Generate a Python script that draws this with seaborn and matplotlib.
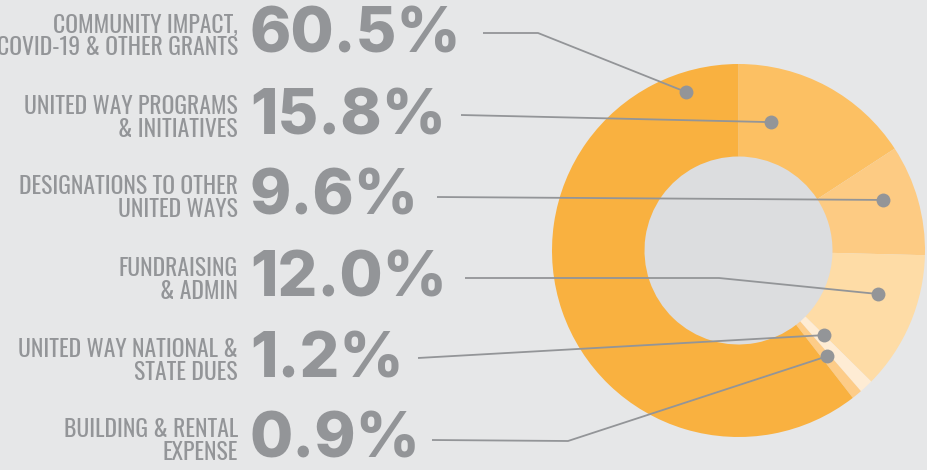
import numpy as np
import matplotlib
matplotlib.use("Agg")
import matplotlib.pyplot as plt
import seaborn as sns
import logging
logging.getLogger("matplotlib.font_manager").setLevel(logging.ERROR)

# ---- data ----
categories = ["COMMUNITY IMPACT,\nCOVID-19 & OTHER GRANTS",
              "UNITED WAY PROGRAMS\n& INITIATIVES",
              "DESIGNATIONS TO OTHER\nUNITED WAYS",
              "FUNDRAISING\n& ADMIN",
              "UNITED WAY NATIONAL &\nSTATE DUES",
              "BUILDING & RENTAL\nEXPENSE"]
values = [60.5, 15.8, 9.6, 12.0, 1.2, 0.9]
pct_labels = ["60.5%", "15.8%", "9.6%", "12.0%", "1.2%", "0.9%"]

# ---- style ----
sns.set_theme(style="white")
BG = "#e6e7e8"
HOLE = "#dcdddf"
GRAY = "#939598"
colors = ["#f9b140", "#fcc063", "#fdcb83", "#fedca6", "#feecd4", "#fdcc88"]

W, H = 928, 470
fig = plt.figure(figsize=(W / 100, H / 100), dpi=100, facecolor=BG)

# donut geometry (pixels)
cx, cy, R = 738.5, 250.5, 186.5
hole_r = 94 / R

# pie order clockwise from top: all but the first, then the first
order = [1, 2, 3, 4, 5, 0]
pax = fig.add_axes([(cx - R) / W, (H - cy - R) / H, 2 * R / W, 2 * R / H])
pax.set_facecolor("none")
wedges, _ = pax.pie([values[i] for i in order], colors=[colors[i] for i in order],
                    startangle=90, counterclock=False, radius=1,
                    wedgeprops=dict(width=1 - hole_r, linewidth=0))
pax.add_patch(plt.Circle((0, 0), hole_r, color=HOLE, zorder=0))
pax.set_xlim(-1, 1)
pax.set_ylim(-1, 1)
pax.set_aspect("equal")
pax.axis("off")

# overlay axes in pixel coordinates for text and leaders
ax = fig.add_axes([0, 0, 1, 1])
ax.set_facecolor("none")
ax.set_xlim(0, W)
ax.set_ylim(H, 0)
ax.axis("off")

label_font = ["Oswald", "Barlow Condensed", "DejaVu Sans"]
pct_font = ["Inter", "DejaVu Sans"]

pct_y = [35, 117, 197, 279, 360, 440]
for cat, pl, y in zip(categories, pct_labels, pct_y):
    ax.text(238, y + 1, cat, ha="right", va="center", color=GRAY,
            family=label_font, fontsize=17, fontweight="medium",
            linespacing=0.95)
    ax.text(250, y + 1, pl, ha="left", va="center", color=GRAY,
            family=pct_font, fontsize=45, fontweight="heavy")

# leader dots: (angle clockwise from top in deg, radius fraction)
dot_pos = [(341.7, 0.895), (14.2, 0.71), (70.7, 0.82), (107.3, 0.785),
           (134.7, 0.645), (140.0, 0.74)]
starts = [[(483, 33), (538, 33)], [(461, 115)], [(437, 197)],
          [(465, 278), (719, 278)], [(418, 358)], [(432, 440), (568, 441)]]
for (ang, rf), pts in zip(dot_pos, starts):
    t = np.deg2rad(ang)
    dx = cx + R * rf * np.sin(t)
    dy = cy - R * rf * np.cos(t)
    xs = [p[0] for p in pts] + [dx]
    ys = [p[1] for p in pts] + [dy]
    ax.plot(xs, ys, color=GRAY, lw=1.3, solid_capstyle="butt")
    ax.plot([dx], [dy], "o", color=GRAY, ms=10, mec="none")

fig.savefig("out.png", dpi=100, facecolor=BG)
